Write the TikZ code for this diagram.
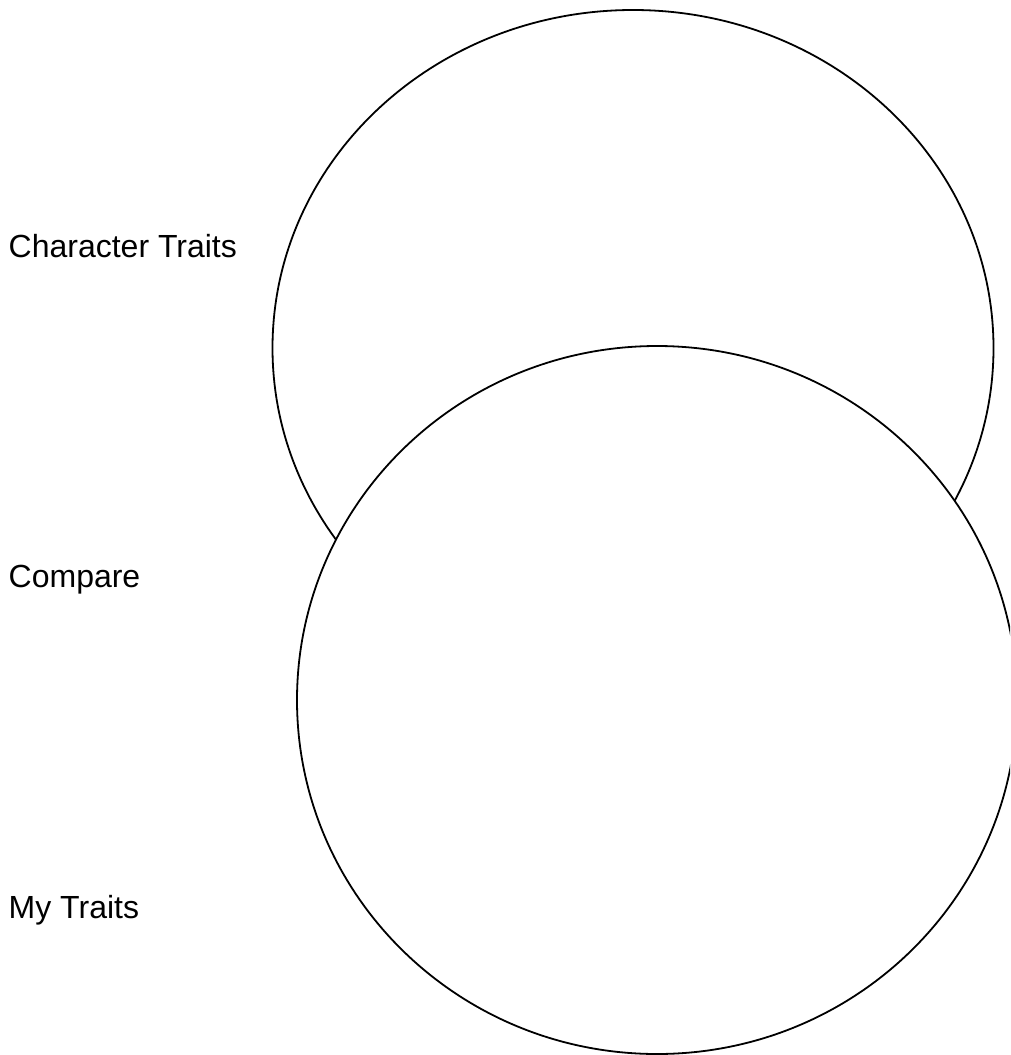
\documentclass[tikz,border=0pt]{standalone}
\usepackage{fontspec}
\setmainfont{Liberation Sans}
\begin{document}
\begin{tikzpicture}[x=1pt,y=-1pt,
  label/.style={anchor=base west,inner sep=0pt,font=\fontsize{32}{38}\selectfont},
  ring/.style={draw=black,line width=1.8pt}]
\useasboundingbox (0,0) rectangle (1010,1055);
\clip (0,0) rectangle (1010,1055);
\fill[white] (0,0) rectangle (1010,1055);
% upper ring, partly covered by the lower one
\draw[ring] (633,348) ellipse [x radius=360.5, y radius=338];
% lower ring, filled white so it hides the overlap
\draw[ring,fill=white] (657,700) ellipse [x radius=360, y radius=354];
% row labels
\node[label] (traits) at (8.5,257) {Character Traits};
\node[label] (compare) at (8.5,587) {Compare};
\node[label] (mine) at (8.5,918) {My Traits};
\end{tikzpicture}
\end{document}
